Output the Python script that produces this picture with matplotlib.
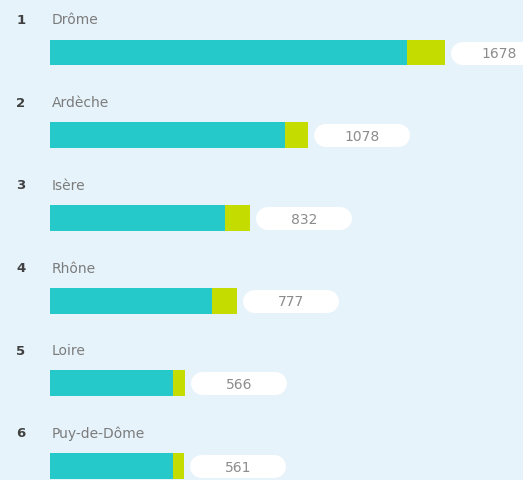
import numpy as np
import matplotlib.pyplot as plt

names = ["Drôme", "Ardèche", "Isère", "Rhône", "Loire", "Puy-de-Dôme"]
totals = [1678, 1078, 832, 777, 566, 561]
# bar segments
part_a = np.array([1517, 998, 743, 688, 522, 522])
part_b = np.array([161, 99, 106, 106, 51, 47])
bar_end = part_a + part_b

bg = "#e6f3fb"
cyan = "#25c9c9"
lime = "#c5dc00"

fig = plt.figure(figsize=(5.23, 4.81), dpi=100, facecolor=bg)
ax = fig.add_axes([0, 0, 1, 1], facecolor=bg)

px = 1 / 0.2354  # data units per pixel (x)
ax.set_xlim(-50 * px, 473 * px)
ax.set_ylim(5.169, -0.647)
ax.axis("off")

rows = np.arange(len(names))
ax.barh(rows, part_a, height=0.314, color=cyan, lw=0)
ax.barh(rows, part_b, left=part_a, height=0.314, color=lime, lw=0)

lw_pts = 23 * 72 / 100
for i in rows:
    ax.text(-29 * px, i - 0.40, str(i + 1), fontsize=9.5, fontweight="bold",
            color="#404040", va="center", ha="center", family="DejaVu Sans")
    ax.text(2 * px, i - 0.40, names[i], fontsize=10, color="#7c7c7c",
            va="center", ha="left", family="DejaVu Sans")
    ax.plot([bar_end[i] + 17 * px, bar_end[i] + 90 * px], [i, i], color="white",
            lw=lw_pts, solid_capstyle="round")
    ax.text(bar_end[i] + 54 * px, i + 0.01, str(totals[i]), fontsize=10,
            color="#8c8c8c", va="center", ha="center", family="DejaVu Sans")

fig.savefig("out.png", dpi=100, facecolor=bg)
